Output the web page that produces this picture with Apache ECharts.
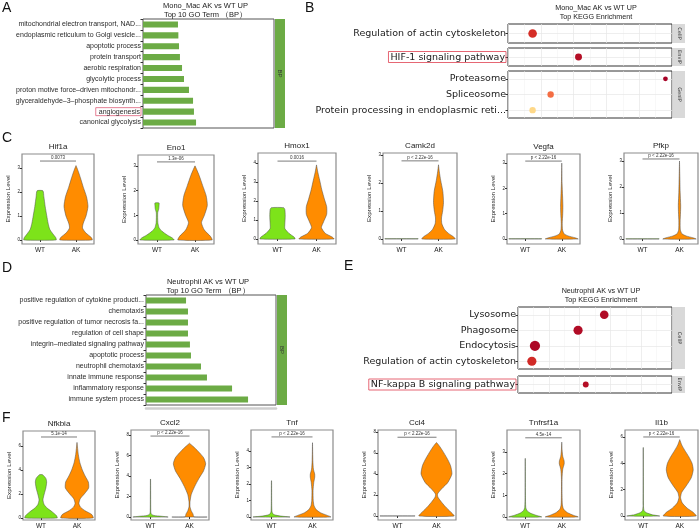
<!DOCTYPE html>
<html>
<head>
<meta charset="utf-8">
<script src="https://cdn.jsdelivr.net/npm/echarts@6/dist/echarts.min.js"></script>
<style>
  html, body { margin: 0; padding: 0; background: #fff; }
  #chart { width: 700px; height: 531px; }
</style>
</head>
<body>
<div id="chart"></div>
<script>
  // ---- GO terms (bar length, arbitrary units) ----
  var goMonoTerms = ['mitochondrial electron transport, NAD...', 'endoplasmic reticulum to Golgi vesicle...',
    'apoptotic process', 'protein transport', 'aerobic respiration', 'glycolytic process',
    'proton motive force\u2013driven mitochondr...', 'glyceraldehyde\u20133\u2013phosphate biosynth...',
    'angiogenesis', 'canonical glycolysis'];
  var goMonoValues = [26.7, 27, 27.5, 28.2, 29.8, 31.3, 35.1, 38.2, 38.9, 40.5];

  var goNeuTerms = ['positive regulation of cytokine producti...', 'chemotaxis',
    'positive regulation of tumor necrosis fa...', 'regulation of cell shape',
    'integrin\u2013mediated signaling pathway', 'apoptotic process', 'neutrophil chemotaxis',
    'innate immune response', 'inflammatory response', 'immune system process'];
  var goNeuValues = [30.8, 32.3, 32.3, 32.3, 33.8, 34.6, 42.3, 46.9, 66.2, 78.5];

  // ---- KEGG dot plots ----
  var keggMonoTerms = ['Regulation of actin cytoskeleton', 'HIF-1 signaling pathway', 'Proteasome',
    'Spliceosome', 'Protein processing in endoplasmic reti...'];
  var keggMonoGroups = ['CellP', 'EnvIP', 'GenIP', 'GenIP', 'GenIP'];
  var keggMonoRatio = [0.15, 0.43, 0.96, 0.26, 0.15];
  var keggMonoCount = [12, 9, 5, 8, 8];
  var keggMonoPadj = [0.012, 0.004, 0.0005, 0.025, 0.048];

  var keggNeuTerms = ['Lysosome', 'Phagosome', 'Endocytosis', 'Regulation of actin cytoskeleton',
    'NF-kappa B signaling pathway'];
  var keggNeuGroups = ['CellP', 'CellP', 'CellP', 'CellP', 'EnvIP'];
  var keggNeuRatio = [0.56, 0.39, 0.11, 0.09, 0.44];
  var keggNeuCount = [12, 13, 15, 13, 7];
  var keggNeuPadj = [0.003, 0.003, 0.002, 0.011, 0.004];

  var highlighted = ['angiogenesis', 'HIF-1 signaling pathway', 'NF-kappa B signaling pathway'];

  // ---- violins ----
  var groups = ['WT', 'AK'];
  var monoGenes = ['Hif1a', 'Eno1', 'Hmox1', 'Camk2d', 'Vegfa', 'Pfkp'];
  var monoPvals = ['0.0073', '1.3e-06', '0.0016', 'p < 2.22e-16', 'p < 2.22e-16', 'p < 2.22e-16'];
  var monoTicks = [[0, 1, 2, 3], [0, 1, 2, 3], [0, 1, 2, 3, 4], [0, 1, 2, 3], [0, 1, 2, 3], [0, 1, 2, 3]];
  var monoSigY = [3.29, 3.16, 4.1, 2.79, 3.08, 3.08];

  var neuGenes = ['Nfkbia', 'Cxcl2', 'Tnf', 'Ccl4', 'Tnfrsf1a', 'Il1b'];
  var neuPvals = ['5.1e-14', 'p < 2.22e-16', 'p < 2.22e-16', 'p < 2.22e-16', '4.5e-14', 'p < 2.22e-16'];
  var neuTicks = [[0, 2, 4, 6], [0, 2, 4, 6, 8], [0, 1, 2, 3, 4], [0, 2, 4, 6, 8], [0, 1, 2, 3], [0, 2, 4, 6]];
  var neuSigY = [6.75, 7.9, 4.85, 7.5, 3.65, 6.0];

  // density outlines: [expression level, relative half width]
  var hif1aWT = [[0, 1], [0.1, 0.97], [0.25, 0.8], [0.45, 0.6], [0.7, 0.5], [1.0, 0.42], [1.4, 0.32], [1.8, 0.24], [2.05, 0.18]];
  var hif1aAK = [[0, 1], [0.1, 0.95], [0.3, 0.6], [0.5, 0.4], [0.7, 0.45], [1.0, 0.62], [1.4, 0.74], [1.8, 0.65], [2.2, 0.45], [2.6, 0.27], [2.9, 0.12], [3.1, 0]];
  var eno1WT = [[0, 1], [0.08, 0.9], [0.2, 0.6], [0.35, 0.3], [0.5, 0.12], [0.7, 0.05], [1.1, 0.04], [1.25, 0.1], [1.4, 0.12], [1.5, 0.12]];
  var eno1AK = [[0, 1], [0.15, 0.9], [0.4, 0.55], [0.7, 0.38], [1.0, 0.55], [1.4, 0.72], [1.8, 0.65], [2.2, 0.45], [2.6, 0.25], [2.85, 0.1], [3.0, 0]];
  var hmox1WT = [[0, 1], [0.1, 0.95], [0.3, 0.65], [0.55, 0.42], [0.8, 0.42], [1.2, 0.44], [1.55, 0.42], [1.65, 0.35]];
  var hmox1AK = [[0, 1], [0.1, 0.9], [0.3, 0.5], [0.6, 0.28], [0.9, 0.4], [1.3, 0.58], [1.7, 0.58], [2.1, 0.45], [2.6, 0.3], [3.1, 0.18], [3.5, 0.08], [3.9, 0]];
  var camk2dWT = [[0, 1], [0.01, 1]];
  var camk2dAK = [[0, 1], [0.08, 0.9], [0.2, 0.6], [0.35, 0.35], [0.55, 0.2], [0.75, 0.18], [1.0, 0.25], [1.3, 0.3], [1.7, 0.26], [2.1, 0.13], [2.4, 0.05], [2.65, 0]];
  var vegfaWT = [[0, 1], [0.01, 1]];
  var vegfaAK = [[0, 1], [0.05, 0.8], [0.12, 0.4], [0.2, 0.15], [0.35, 0.05], [0.6, 0.03], [1.0, 0.06], [1.3, 0.07], [1.7, 0.05], [2.2, 0.02], [3.0, 0]];
  var pfkpWT = [[0, 1], [0.01, 1]];
  var pfkpAK = [[0, 1], [0.05, 0.8], [0.12, 0.4], [0.2, 0.15], [0.35, 0.05], [0.7, 0.04], [1.0, 0.06], [1.3, 0.07], [1.8, 0.04], [2.4, 0.02], [3.0, 0]];

  var nfkbiaWT = [[0, 1], [0.2, 0.95], [0.5, 0.7], [0.8, 0.4], [1.1, 0.2], [1.5, 0.12], [2.0, 0.2], [2.5, 0.3], [3.0, 0.35], [3.3, 0.3], [3.6, 0.1]];
  var nfkbiaAK = [[0, 1], [0.3, 0.9], [0.6, 0.5], [0.9, 0.22], [1.2, 0.12], [1.6, 0.2], [2.0, 0.45], [2.5, 0.72], [3.0, 0.7], [3.5, 0.5], [4.0, 0.33], [4.6, 0.18], [5.3, 0.08], [6.3, 0]];
  var cxcl2WT = [[0, 1], [0.08, 0.6], [0.15, 0.2], [0.3, 0.04], [0.6, 0.015], [3.7, 0.005]];
  var cxcl2AK = [[0, 1], [0.02, 0.25], [0.3, 0.2], [0.6, 0.1], [1.0, 0.03], [1.5, 0.03], [2.2, 0.1], [3.0, 0.3], [3.8, 0.55], [4.5, 0.8], [5.2, 0.92], [5.8, 0.8], [6.4, 0.5], [6.9, 0.2], [7.2, 0]];
  var tnfWT = [[0, 1], [0.06, 0.5], [0.15, 0.12], [0.3, 0.03], [0.8, 0.012], [2.2, 0.005]];
  var tnfAK = [[0, 1], [0.1, 0.8], [0.25, 0.45], [0.45, 0.2], [0.7, 0.08], [1.0, 0.04], [1.6, 0.03], [2.1, 0.07], [2.4, 0.12], [2.6, 0.12], [2.9, 0.05], [3.4, 0.02], [4.5, 0]];
  var ccl4WT = [[0, 1], [0.01, 1]];
  var ccl4AK = [[0, 1], [0.4, 0.8], [0.9, 0.5], [1.4, 0.25], [1.8, 0.08], [2.1, 0.06], [2.6, 0.3], [3.2, 0.65], [4.0, 0.88], [4.8, 0.8], [5.5, 0.6], [6.2, 0.35], [6.7, 0.15], [7.0, 0]];
  var tnfrsf1aWT = [[0, 1], [0.08, 0.65], [0.18, 0.3], [0.3, 0.1], [0.45, 0.03], [1.0, 0.012], [2.7, 0.005]];
  var tnfrsf1aAK = [[0, 1], [0.08, 0.7], [0.2, 0.35], [0.35, 0.12], [0.55, 0.04], [1.0, 0.02], [1.8, 0.02], [2.2, 0.06], [2.45, 0.15], [2.6, 0.14], [2.8, 0.06], [3.1, 0.02], [3.45, 0]];
  var il1bWT = [[0, 1], [0.1, 0.55], [0.25, 0.2], [0.4, 0.05], [0.8, 0.012], [5.2, 0.005]];
  var il1bAK = [[0, 1], [0.3, 0.8], [0.6, 0.45], [1.0, 0.15], [1.4, 0.05], [1.8, 0.12], [2.3, 0.4], [2.9, 0.7], [3.5, 0.82], [4.0, 0.75], [4.5, 0.55], [5.0, 0.3], [5.4, 0.12], [5.8, 0]];

  var monoProfiles = [[hif1aWT, hif1aAK], [eno1WT, eno1AK], [hmox1WT, hmox1AK], [camk2dWT, camk2dAK], [vegfaWT, vegfaAK], [pfkpWT, pfkpAK]];
  var neuProfiles = [[nfkbiaWT, nfkbiaAK], [cxcl2WT, cxcl2AK], [tnfWT, tnfAK], [ccl4WT, ccl4AK], [tnfrsf1aWT, tnfrsf1aAK], [il1bWT, il1bAK]];

  // ---- layout ----
  var SANS = '"Liberation Sans", Arial, sans-serif';
  var DEJAVU = '"DejaVu Sans", sans-serif';
  var GREEN_BAR = '#6cab45';
  var VIOLIN_FILL = ['#7de31a', '#ff8c00'];

  var monoBoxes = [
    { left: 22, top: 154, width: 72, height: 90, yMin: -0.167, yMax: 3.583 },
    { left: 138, top: 155, width: 76, height: 89, yMin: -0.162, yMax: 3.44 },
    { left: 258, top: 153, width: 78, height: 91, yMin: -0.263, yMax: 4.526 },
    { left: 383, top: 153, width: 74, height: 91, yMin: -0.179, yMax: 3.071 },
    { left: 507, top: 154, width: 73, height: 90, yMin: -0.198, yMax: 3.36 },
    { left: 624, top: 153, width: 74, height: 91, yMin: -0.19, yMax: 3.31 }
  ];
  var neuBoxes = [
    { left: 23, top: 431, width: 72, height: 89, yMin: -0.17, yMax: 7.25 },
    { left: 131, top: 430, width: 78, height: 90, yMin: -0.29, yMax: 8.49 },
    { left: 251, top: 430, width: 82, height: 90, yMin: -0.18, yMax: 5.27 },
    { left: 378, top: 430, width: 78, height: 90, yMin: -0.38, yMax: 8.19 },
    { left: 507, top: 430, width: 73, height: 90, yMin: -0.14, yMax: 4.01 },
    { left: 625, top: 430, width: 73, height: 90, yMin: -0.3, yMax: 6.53 }
  ];

  var option = {
    backgroundColor: '#fff',
    animation: false,
    grid: [], xAxis: [], yAxis: [], series: [], graphic: [],
    visualMap: []
  };

  function text(x, y, str, size, opts) {
    opts = opts || {};
    option.graphic.push({
      type: 'text', x: x, y: y, rotation: opts.rotation || 0, z: 10,
      style: {
        text: str, fill: opts.color || '#222', fontSize: size, fontFamily: opts.font || SANS,
        align: opts.align || 'center', verticalAlign: opts.valign || 'middle',
        textAlign: opts.align || 'center', textVerticalAlign: opts.valign || 'middle'
      }
    });
  }

  function labelFormatter(v) {
    return highlighted.indexOf(v) >= 0 ? '{hl|' + v + '}' : v;
  }

  // ---- GO bar panels ----
  function addGoPanel(terms, values, box, title1, title2, bottomRule) {
    var gi = option.grid.length;
    option.grid.push({ left: box.left, top: box.top, width: box.width, height: box.height,
      show: true, borderColor: '#555', borderWidth: 1, backgroundColor: '#fff' });
    option.xAxis.push({ gridIndex: gi, type: 'value', min: 0, max: 100,
      axisLabel: { show: false }, axisTick: { show: false }, splitLine: { show: false },
      axisLine: { show: !!bottomRule, lineStyle: { color: '#cfcfcf', width: 2.5 } }, offset: 3 });
    option.yAxis.push({ gridIndex: gi, type: 'category', data: terms, inverse: true,
      axisLine: { show: false }, axisTick: { show: true, length: 2.5, lineStyle: { color: '#333' } },
      axisLabel: { fontSize: 7, color: '#2b2b2b', fontFamily: SANS, margin: 2, formatter: labelFormatter,
        rich: { hl: { fontSize: 7, color: '#2b2b2b', fontFamily: SANS, borderColor: '#e0607a', borderWidth: 0.8, padding: [1, 1, 0, 3] } } } });
    option.series.push({ type: 'bar', xAxisIndex: gi, yAxisIndex: gi, data: values,
      barWidth: '56%', itemStyle: { color: GREEN_BAR } });
    var sx = box.left + box.width + 1;
    option.graphic.push({ type: 'rect', shape: { x: sx, y: box.top, width: 10, height: box.height },
      style: { fill: GREEN_BAR }, z: 5 });
    text(sx + 5, box.top + box.height / 2, 'BP', 6, { rotation: -Math.PI / 2, color: '#333' });
    var cx = box.left + box.width / 2 - 3;
    text(cx, box.top - 13, title1, 7.5, { color: '#222' });
    text(cx, box.top - 4, title2, 7.5, { color: '#222' });
  }

  addGoPanel(goMonoTerms, goMonoValues, { left: 143, top: 19, width: 131, height: 109 },
    'Mono_Mac AK vs WT UP', 'Top 10 GO Term \uff08BP\uff09', false);
  addGoPanel(goNeuTerms, goNeuValues, { left: 146, top: 295, width: 130, height: 110 },
    'Neutrophil AK vs WT UP', 'Top 10 GO Term \uff08BP\uff09', true);

  // ---- KEGG dot panels ----
  var keggSeries = [];
  function addKeggPanel(terms, grp, ratio, count, padj, facets, left, width, title1, title2) {
    facets.forEach(function (f) {
      var gi = option.grid.length;
      var cats = [], pts = [];
      terms.forEach(function (t, i) {
        if (grp[i] !== f.group) return;
        cats.push(t);
        pts.push([ratio[i], t, count[i], padj[i]]);
      });
      option.grid.push({ left: left, top: f.top, width: width, height: f.height,
        show: true, borderColor: '#333', borderWidth: 1, backgroundColor: '#fff' });
      option.xAxis.push({ gridIndex: gi, type: 'value', min: 0, max: 1, interval: 0.2,
        axisLabel: { show: false }, axisTick: { show: false }, axisLine: { show: false },
        minorTick: { show: false, splitNumber: 2 },
        splitLine: { show: true, lineStyle: { color: '#e6e6e6', width: 0.7 } },
        minorSplitLine: { show: true, lineStyle: { color: '#f1f1f1', width: 0.5 } } });
      option.yAxis.push({ gridIndex: gi, type: 'category', data: cats, inverse: true,
        axisLine: { show: false }, axisTick: { show: true, length: 2.5, alignWithLabel: true, lineStyle: { color: '#333' } },
        splitLine: { show: false },
        axisLabel: { fontSize: 9.5, color: '#1a1a1a', fontFamily: DEJAVU, margin: 2, formatter: labelFormatter,
          rich: { hl: { fontSize: 9.5, color: '#1a1a1a', fontFamily: DEJAVU, borderColor: '#e04050', borderWidth: 0.8, padding: [1, 1, 0, 2] } } } });
      keggSeries.push(option.series.length);
      option.series.push({ type: 'scatter', xAxisIndex: gi, yAxisIndex: gi, data: pts, z: 5,
        symbolSize: function (v) { return 2 + v[2] * 0.55; },
        itemStyle: { opacity: 1 },
        markLine: { silent: true, symbol: 'none', z: 1, label: { show: false },
          lineStyle: { color: '#e6e6e6', width: 0.7, type: 'solid' },
          data: cats.map(function (c) { return { yAxis: c }; }) } });
      var sx = left + width + 1;
      option.graphic.push({ type: 'rect', shape: { x: sx, y: f.top, width: 12, height: f.height },
        style: { fill: '#d9d9d9' }, z: 5 });
      text(sx + 6, f.top + f.height / 2, f.group, 5, { rotation: -Math.PI / 2, color: '#333', font: DEJAVU });
    });
    var cx = left + width / 2 + 6;
    text(cx, facets[0].top - 16, title1, 7.2, { color: '#222' });
    text(cx, facets[0].top - 7, title2, 7.2, { color: '#222' });
  }

  addKeggPanel(keggMonoTerms, keggMonoGroups, keggMonoRatio, keggMonoCount, keggMonoPadj,
    [{ group: 'CellP', top: 24, height: 19 }, { group: 'EnvIP', top: 48, height: 18 }, { group: 'GenIP', top: 71, height: 47 }],
    508, 164, 'Mono_Mac AK vs WT UP', 'Top KEGG Enrichment');
  addKeggPanel(keggNeuTerms, keggNeuGroups, keggNeuRatio, keggNeuCount, keggNeuPadj,
    [{ group: 'CellP', top: 307, height: 62 }, { group: 'EnvIP', top: 376, height: 17 }],
    518, 154, 'Neutrophil AK vs WT UP', 'Top KEGG Enrichment');

  option.visualMap.push({ type: 'continuous', show: false, dimension: 3, min: 0, max: 0.05,
    seriesIndex: keggSeries,
    inRange: { color: ['#a50026', '#d73027', '#f46d43', '#fdae61', '#fee090'] } });

  // ---- violin panels ----
  function violinRenderer(profiles) {
    return function (params, api) {
      var cat = api.value(0);
      var prof = profiles[params.dataIndex];
      var half = api.size([1, 0])[0] * 0.45;
      var right = [], left = [];
      prof.forEach(function (p) {
        var c = api.coord([cat, p[0]]);
        right.push([c[0] + half * p[1], c[1]]);
        left.unshift([c[0] - half * p[1], c[1]]);
      });
      return {
        type: 'polygon',
        shape: { points: right.concat(left), smooth: 0.2 },
        style: { fill: VIOLIN_FILL[params.dataIndex], stroke: '#4a4a4a', lineWidth: 0.5 }
      };
    };
  }

  function sigRenderer(label) {
    return function (params, api) {
      var y = api.value(1);
      var a = api.coord([0, y]), b = api.coord([1, y]);
      return {
        type: 'group',
        children: [
          { type: 'line', shape: { x1: a[0], y1: a[1], x2: b[0], y2: b[1] }, style: { stroke: '#444', lineWidth: 0.7 } },
          { type: 'text', style: { text: label, x: (a[0] + b[0]) / 2, y: a[1] - 1, fontSize: 4.5, fontFamily: SANS,
            fill: '#333', align: 'center', verticalAlign: 'bottom' } }
        ]
      };
    };
  }

  function addViolinRow(genes, pvals, ticks, sigY, profiles, boxes) {
    genes.forEach(function (g, i) {
      var b = boxes[i];
      var gi = option.grid.length;
      option.grid.push({ left: b.left, top: b.top, width: b.width, height: b.height,
        show: true, borderColor: '#8c8c8c', borderWidth: 1.2, backgroundColor: '#fff' });
      option.xAxis.push({ gridIndex: gi, type: 'category', data: groups,
        axisLine: { show: false },
        axisTick: { show: true, length: 2, alignWithLabel: true, lineStyle: { color: '#333' } },
        axisLabel: { fontSize: 6.5, color: '#222', fontFamily: SANS, margin: 3 } });
      option.yAxis.push({ gridIndex: gi, type: 'value', min: b.yMin, max: b.yMax,
        splitLine: { show: false }, axisLine: { show: false },
        axisTick: { show: true, length: 2, customValues: ticks[i], lineStyle: { color: '#333' } },
        axisLabel: { fontSize: 4.5, color: '#222', fontFamily: SANS, margin: 2, customValues: ticks[i] },
        name: 'Expression Level', nameLocation: 'middle', nameGap: 11,
        nameTextStyle: { fontSize: 6.2, color: '#222', fontFamily: SANS } });
      option.series.push({ type: 'custom', xAxisIndex: gi, yAxisIndex: gi,
        data: [[0, 0], [1, 0]], renderItem: violinRenderer(profiles[i]) });
      option.series.push({ type: 'custom', xAxisIndex: gi, yAxisIndex: gi,
        data: [[0, sigY[i]]], renderItem: sigRenderer(pvals[i]) });
      text(b.left + b.width / 2, b.top - 7, g, 8, { color: '#222' });
    });
  }

  addViolinRow(monoGenes, monoPvals, monoTicks, monoSigY, monoProfiles, monoBoxes);
  addViolinRow(neuGenes, neuPvals, neuTicks, neuSigY, neuProfiles, neuBoxes);

  // ---- panel letters ----
  text(2, 8, 'A', 14, { align: 'left', color: '#111' });
  text(305, 8, 'B', 14, { align: 'left', color: '#111' });
  text(2, 138, 'C', 14, { align: 'left', color: '#111' });
  text(2, 268, 'D', 14, { align: 'left', color: '#111' });
  text(344, 266, 'E', 14, { align: 'left', color: '#111' });
  text(2, 418, 'F', 14, { align: 'left', color: '#111' });

  var chart = echarts.init(document.getElementById('chart'));
  chart.setOption(option);
</script>
</body>
</html>
